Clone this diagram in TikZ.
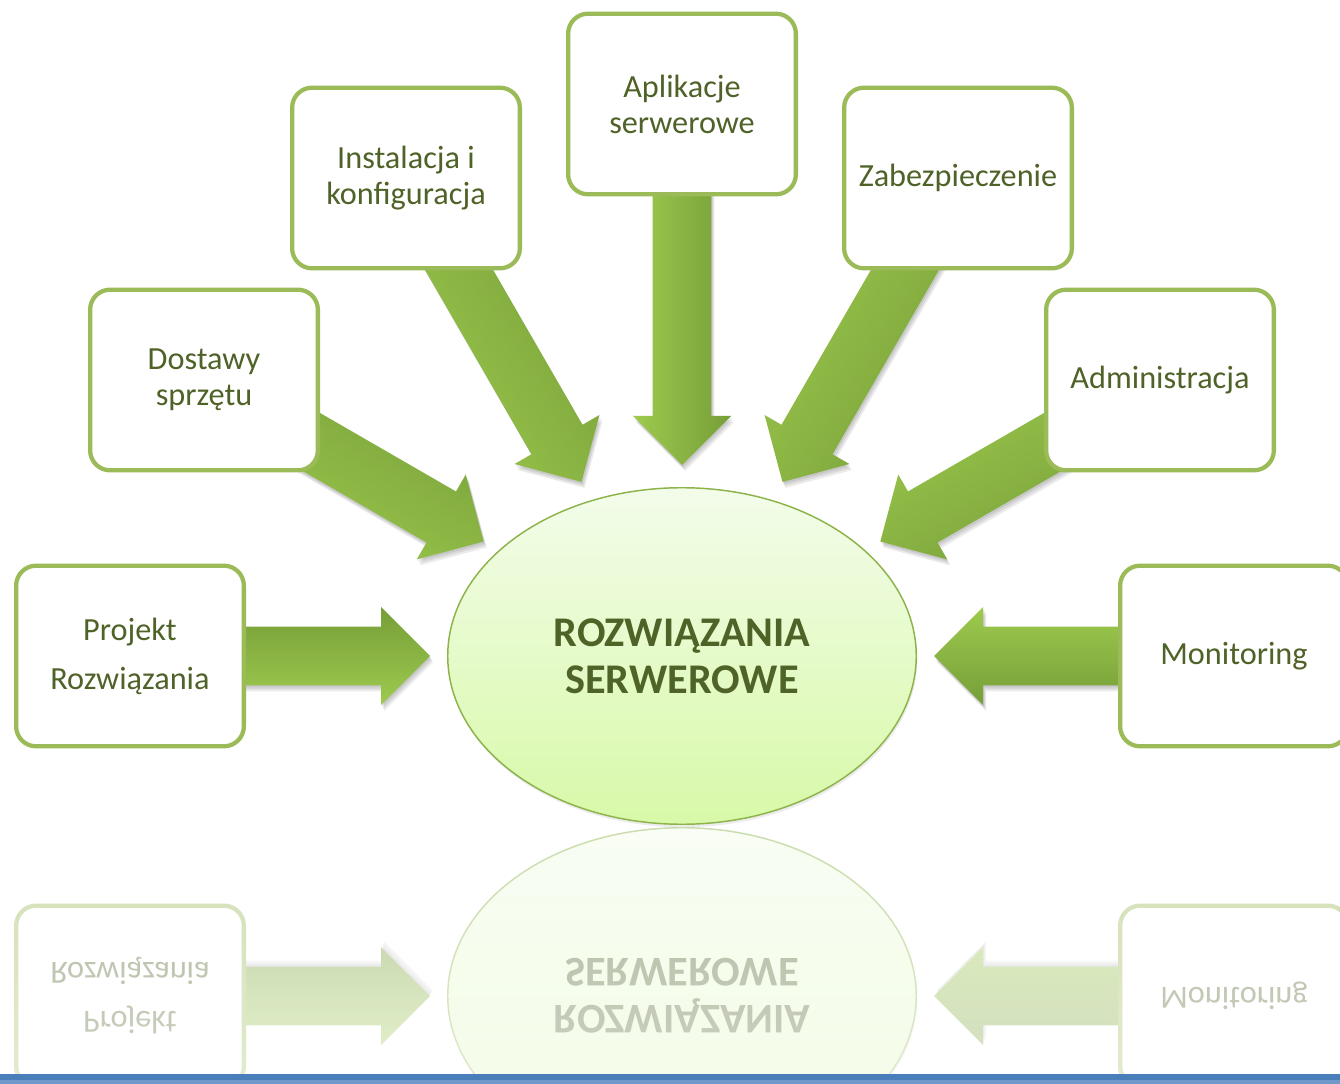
\documentclass[tikz,border=0pt]{standalone}
\usepackage{fontspec}
\setmainfont{Carlito}
\usetikzlibrary{calc,shapes.geometric,fadings,shadows}

\definecolor{boxgreen}{RGB}{155,187,89}
\definecolor{txtgreen}{RGB}{79,98,40}
\definecolor{arrdark}{RGB}{118,158,56}
\definecolor{arrlight}{RGB}{158,202,78}
\definecolor{ellline}{RGB}{140,180,75}
\definecolor{elltop}{RGB}{243,252,234}
\definecolor{ellbot}{RGB}{216,249,168}
\definecolor{barblue}{RGB}{74,126,187}
\definecolor{barlight}{RGB}{111,152,200}

\newcommand\boxfont{\fontsize{24.2pt}{27pt}\selectfont}
\newcommand\titlefont{\fontsize{31.7pt}{35.25pt}\selectfont\bfseries}

\tikzset{
  sbox/.style={draw=boxgreen, line width=3.2pt, rounded corners=15pt, fill=white,
    minimum width=170.8pt, minimum height=135.5pt, inner sep=0pt,
    text=txtgreen, font=\boxfont, align=center},
  cellipse/.style={ellipse, draw=ellline, line width=1.1pt, top color=elltop, bottom color=ellbot,
    minimum width=351.4pt, minimum height=252.4pt, inner sep=0pt,
    text=txtgreen, font=\titlefont, align=center,
    drop shadow={opacity=0.15, shadow xshift=0.8pt, shadow yshift=-2.2pt}},
  arrowbody/.style={top color=arrdark, bottom color=arrlight},
  arrowshade/.style={fill=black, opacity=0.08},
}

% path of a block arrow, shifted
\newcommand\apath[2]{([shift={#2}]#1t) -- ([shift={#2}]#1a) -- ([shift={#2}]#1b) -- ([shift={#2}]#1c) -- ([shift={#2}]#1d) -- ([shift={#2}]#1e) -- ([shift={#2}]#1f) -- cycle}

% #1 prefix, #2 source centre, #3 target centre, #4 tip distance from target, #5 pointing angle
\newcommand\blockarrow[5]{%
  \coordinate (#1t) at ($(#3)!#4!(#2)$);
  \coordinate (#1h) at ($(#1t)!36.75pt!(#2)$);
  \coordinate (#1a) at ($(#1h)!36.75pt!90:(#1t)$);
  \coordinate (#1b) at ($(#1h)!22.1pt!90:(#1t)$);
  \coordinate (#1c) at ($(#2)!22.1pt!90:(#1t)$);
  \coordinate (#1d) at ($(#2)!22.1pt!-90:(#1t)$);
  \coordinate (#1e) at ($(#1h)!22.1pt!-90:(#1t)$);
  \coordinate (#1f) at ($(#1h)!36.75pt!-90:(#1t)$);
  \fill[arrowshade] \apath{#1}{(1,2)};
  \fill[arrowshade] \apath{#1}{(2,4)};
  \fill[arrowshade] \apath{#1}{(3,6)};
  \path[arrowbody, shading angle=#5] \apath{#1}{(0,0)};
}

\newcommand\bottomrow[1]{%
  \coordinate (#1cE) at (682,656);
  \coordinate (#1cP) at (130,656);
  \coordinate (#1cM) at (1234,656);
  \blockarrow{#1aP}{#1cP}{#1cE}{189pt}{0}
  \blockarrow{#1aM}{#1cM}{#1cE}{189pt}{180}
  \node[sbox] (#1P) at (#1cP) {Projekt\\[9.75pt]Rozwiązania};
  \node[sbox] (#1M) at (#1cM) {Monitoring};
  \node[cellipse] (#1E) at (#1cE) {ROZWIĄZANIA\\SERWEROWE};
}

\begin{document}
\begin{tikzpicture}[x=0.75pt,y=-0.75pt]
\useasboundingbox (0,0) rectangle (1340,1084);
\fill[white] (0,0) rectangle (1340,1084);

% reflection
\begin{scope}
  \clip (0,827) rectangle (1340,1074);
  \begin{scope}[shift={(0,1652)}, yscale=-1, transform shape, transparency group, opacity=0.45]
    \bottomrow{r}
  \end{scope}
  \fill[white, path fading=north, opacity=0.35] (0,827) rectangle (1340,1074);
\end{scope}

% upper boxes and their arrows
\coordinate (ctr) at (682,656);
\coordinate (cD) at (204,380);
\coordinate (cI) at (406,178);
\coordinate (cA) at (682,104);
\coordinate (cZ) at (958,178);
\coordinate (cAd) at (1160,380);

\blockarrow{aD}{cD}{ctr}{171.75pt}{-30}
\blockarrow{aI}{cI}{ctr}{150.75pt}{-60}
\blockarrow{aA}{cA}{ctr}{143.25pt}{-90}
\blockarrow{aZ}{cZ}{ctr}{150.75pt}{-120}
\blockarrow{aAd}{cAd}{ctr}{171.75pt}{-150}

\node[sbox] (D) at (cD) {Dostawy\\sprzętu};
\node[sbox] (I) at (cI) {Instalacja i\\konfiguracja};
\node[sbox] (A) at (cA) {Aplikacje\\serwerowe};
\node[sbox] (Z) at (cZ) {Zabezpieczenie};
\node[sbox] (Ad) at (cAd) {Administracja};

% bottom row
\bottomrow{}

% bottom bar
\fill[barblue] (0,1074) rectangle (1340,1080);
\fill[barlight] (0,1080) rectangle (1340,1084);
\end{tikzpicture}
\end{document}
